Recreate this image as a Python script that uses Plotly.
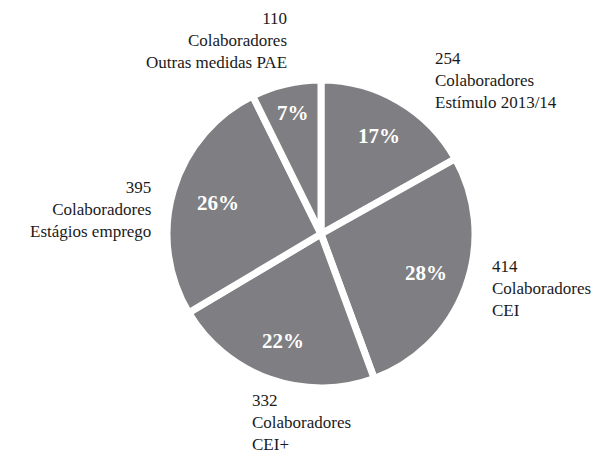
import math
import plotly.graph_objects as go

categories = ["Estímulo 2013/14", "CEI", "CEI+", "Estágios emprego", "Outras medidas PAE"]
values = [254, 414, 332, 395, 110]
unit_label = "Colaboradores"

# page body has an 8px margin; figure fills the rest of the window
OFF = 8
W, H = 600, 448
FONT = "Liberation Serif, DejaVu Serif, Times New Roman, serif"


def fx(px):
    return (px - OFF) / W


def fy(py):
    return 1 - (py - OFF) / H


# pie geometry in page pixels
CX, CY, R = 321, 234, 154

fig = go.Figure(go.Pie(
    labels=categories,
    values=values,
    sort=False,
    direction="clockwise",
    rotation=0,
    marker=dict(colors=["#7f7f83"] * len(values), line=dict(color="white", width=7)),
    textinfo="none",
    domain=dict(x=[fx(CX - R), fx(CX + R)], y=[fy(CY + R), fy(CY - R)]),
    showlegend=False,
    hoverinfo="label+value+percent",
))

anns = []
# percentage labels, placed at each slice's mid-angle
total = sum(values)
radial = [0.74, 0.73, 0.74, 0.70, 0.81]
cum = 0
for val, rf in zip(values, radial):
    mid = (cum + val / 2) / total * 2 * math.pi
    cum += val
    px = CX + rf * R * math.sin(mid)
    py = CY - rf * R * math.cos(mid)
    anns.append(dict(
        x=fx(px), y=fy(py), xref="paper", yref="paper",
        xanchor="center", yanchor="middle", showarrow=False,
        text=f"<b>{round(val / total * 100)}%</b>",
        font=dict(family=FONT, size=21, color="white"),
    ))

# outer label placement (page pixel anchor, alignment) per category
label_pos = [
    (433, 47, "left"),
    (490, 255, "left"),
    (250, 389, "left"),
    (153, 176, "right"),
    (289, 7, "right"),
]
for cat, val, (px, py, al) in zip(categories, values, label_pos):
    anns.append(dict(
        x=fx(px), y=fy(py), xref="paper", yref="paper",
        xanchor=al, yanchor="top", align=al, showarrow=False,
        text=f"{val}<br>{unit_label}<br>{cat}",
        font=dict(family=FONT, size=17, color="#1a1a1a"),
    ))

fig.update_layout(
    width=W, height=H,
    margin=dict(l=0, r=0, t=0, b=0),
    paper_bgcolor="white", plot_bgcolor="white",
    annotations=anns,
)
fig.write_html("out.html")
